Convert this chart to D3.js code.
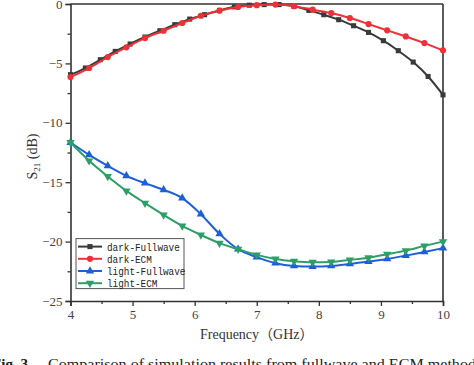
<!DOCTYPE html>
<html>
<head>
<meta charset="utf-8">
<script src="https://cdn.jsdelivr.net/npm/d3@7"></script>
<style>
  body { margin: 0; background: #fff; }
  svg { display: block; }
  .tick text { font-family: "Liberation Serif", serif; font-size: 13px; fill: #444; }
  .domain, .tick line { stroke: #333; }
</style>
</head>
<body>
<div id="chart"></div>
<script>

// ----- data -----
var freqFull = [4.00, 4.24, 4.48, 4.72, 4.96, 5.20, 5.44, 5.68, 5.92, 6.16, 6.40, 6.64, 6.88,
                7.12, 7.36, 7.60, 7.84, 8.08, 8.32, 8.56, 8.80, 9.04, 9.28, 9.52, 9.76, 10.00];
var freqStep = [4.0, 4.3, 4.6, 4.9, 5.2, 5.5, 5.8, 6.1, 6.4, 6.7, 7.0,
                7.3, 7.6, 7.9, 8.2, 8.5, 8.8, 9.1, 9.4, 9.7, 10.0];

var darkFullwave = [-5.95, -5.39, -4.69, -3.99, -3.37, -2.78, -2.25, -1.74, -1.27, -0.90, -0.54, -0.24, -0.10,
                    -0.05, -0.05, -0.20, -0.54, -0.90, -1.32, -1.83, -2.39, -3.09, -3.93, -4.89, -6.10, -7.65];
var darkECM = [-6.15, -5.39, -4.47, -3.65, -2.87, -2.25, -1.60, -0.99, -0.56, -0.25, -0.10,
               -0.05, -0.18, -0.48, -0.76, -1.18, -1.69, -2.22, -2.73, -3.29, -3.90];
var lightFullwave = [-11.66, -12.70, -13.62, -14.46, -15.08, -15.64, -16.34, -17.69, -19.35, -20.64, -21.31,
                     -21.82, -22.05, -22.10, -22.05, -21.88, -21.68, -21.46, -21.18, -20.87, -20.55];
var lightECM = [-11.66, -13.20, -14.52, -15.73, -16.76, -17.75, -18.68, -19.44, -20.13, -20.64, -21.12,
                -21.46, -21.65, -21.74, -21.71, -21.54, -21.35, -21.06, -20.76, -20.36, -20.00];

var xTicks = [4, 5, 6, 7, 8, 9, 10];
var yTicks = [0, -5, -10, -15, -20, -25];

var seriesNames = ['dark-Fullwave', 'dark-ECM', 'light-Fullwave', 'light-ECM'];


// ----- layout -----
var W = 474, H = 365;
var margin = { top: 4, right: 31, bottom: 64, left: 70.5 },
    width = W - margin.left - margin.right,
    height = H - margin.top - margin.bottom;

var svg = d3.select('#chart').append('svg')
    .attr('width', W)
    .attr('height', H);

var g = svg.append('g')
    .attr('transform', 'translate(' + margin.left + ',' + margin.top + ')');

var x = d3.scaleLinear().domain([4, 10]).range([0, width]);
var y = d3.scaleLinear().domain([-25, 0]).range([height, 0]);

// series table (style per series)
var series = [
  { name: seriesNames[0], xs: freqFull, ys: darkFullwave, color: '#3a3a3a', sym: d3.symbolSquare, size: 26, rot: 0 },
  { name: seriesNames[1], xs: freqStep, ys: darkECM, color: '#ee3138', sym: d3.symbolCircle, size: 30, rot: 0 },
  { name: seriesNames[2], xs: freqStep, ys: lightFullwave, color: '#1e5fd8', sym: d3.symbolTriangle, size: 30, rot: 0 },
  { name: seriesNames[3], xs: freqStep, ys: lightECM, color: '#2c9f68', sym: d3.symbolTriangle, size: 30, rot: 180 }
];


// ----- axes -----
g.append('g').attr('transform', 'translate(0,' + height + ')')
    .call(d3.axisBottom(x).tickValues(xTicks).tickSize(5).tickPadding(4).tickFormat(d3.format('d')));
g.append('g').attr('transform', 'translate(0,' + height + ')')
    .call(d3.axisBottom(x).tickValues(d3.range(4.5, 10, 1)).tickSize(3).tickFormat(''))
    .select('.domain').remove();

g.append('g')
    .call(d3.axisLeft(y).tickValues(yTicks).tickSize(5).tickPadding(3).tickFormat(d3.format('d')));
g.append('g')
    .call(d3.axisLeft(y).tickValues(d3.range(-22.5, 0, 5)).tickSize(3).tickFormat(''))
    .select('.domain').remove();

g.selectAll('.domain').attr('stroke-width', 1.6);
g.selectAll('.tick line').attr('stroke-width', 1.3);

// frame top / right
g.append('line').attr('x1', 0).attr('x2', width).attr('y1', 0).attr('y2', 0)
    .attr('stroke', '#333').attr('stroke-width', 1.6);
g.append('line').attr('x1', width).attr('x2', width).attr('y1', 0).attr('y2', height)
    .attr('stroke', '#333').attr('stroke-width', 1.6);


// ----- lines + markers -----
var line = d3.line()
    .x(function(d) { return x(d[0]); })
    .y(function(d) { return y(d[1]); })
    .curve(d3.curveMonotoneX);

series.forEach(function(s) {
  var pts = s.xs.map(function(v, i) { return [v, s.ys[i]]; });
  g.append('path').datum(pts)
      .attr('fill', 'none')
      .attr('stroke', s.color)
      .attr('stroke-width', 2)
      .attr('d', line);
  g.selectAll(null).data(pts).enter()
      .append('path')
      .attr('d', d3.symbol().type(s.sym).size(s.size))
      .attr('fill', s.color)
      .attr('transform', function(d) {
        return 'translate(' + x(d[0]) + ',' + y(d[1]) + ') rotate(' + s.rot + ')';
      });
});


// ----- legend -----
var lg = g.append('g').attr('transform', 'translate(' + (x(4) + 5.5) + ',' + (y(-20) - 3) + ')');
lg.append('rect')
    .attr('width', 108).attr('height', 50)
    .attr('fill', '#fff').attr('stroke', '#555').attr('stroke-width', 1);

series.forEach(function(s, i) {
  var row = lg.append('g').attr('transform', 'translate(0,' + (8 + i * 12.2) + ')');
  row.append('line').attr('x1', 2).attr('x2', 26).attr('y1', 0).attr('y2', 0)
      .attr('stroke', s.color).attr('stroke-width', 2);
  row.append('path')
      .attr('d', d3.symbol().type(s.sym).size(s.size))
      .attr('fill', s.color)
      .attr('transform', 'translate(14,0) rotate(' + s.rot + ')');
  row.append('text')
      .attr('x', 31).attr('y', 4)
      .attr('font-family', '"Liberation Mono", monospace')
      .attr('font-size', 11)
      .attr('fill', '#222')
      .attr('textLength', s.name.length * 5.6)
      .attr('lengthAdjust', 'spacingAndGlyphs')
      .text(s.name);
});


// ----- titles -----
svg.append('text')
    .attr('x', margin.left + width / 2).attr('y', 339)
    .attr('text-anchor', 'middle')
    .attr('font-family', '"Liberation Serif", "Noto Sans CJK SC", serif')
    .attr('font-size', 14)
    .attr('fill', '#333')
    .text('Frequency（GHz）');

var yt = svg.append('text')
    .attr('transform', 'translate(37,' + (margin.top + height / 2 + 4) + ') rotate(-90)')
    .attr('text-anchor', 'middle')
    .attr('font-family', '"Liberation Serif", serif')
    .attr('font-size', 14)
    .attr('fill', '#333');
yt.append('tspan').text('S');
yt.append('tspan').attr('font-size', 9).attr('dy', 3).text('21');
yt.append('tspan').attr('dy', -3).text(' (dB)');

// caption, cut at the bottom edge like the source
svg.append('text')
    .attr('x', -8).attr('y', 369)
    .attr('font-family', '"Liberation Serif", serif')
    .attr('font-size', 15)
    .attr('font-weight', 'bold')
    .attr('fill', '#222')
    .attr('textLength', 36)
    .attr('lengthAdjust', 'spacingAndGlyphs')
    .text('Fig. 3');
svg.append('text')
    .attr('x', 48).attr('y', 369)
    .attr('font-family', '"Liberation Serif", serif')
    .attr('font-size', 15)
    .attr('fill', '#222')
    .attr('textLength', 428)
    .attr('lengthAdjust', 'spacingAndGlyphs')
    .text('Comparison of  simulation results from fullwave and ECM method');

</script>
</body>
</html>
